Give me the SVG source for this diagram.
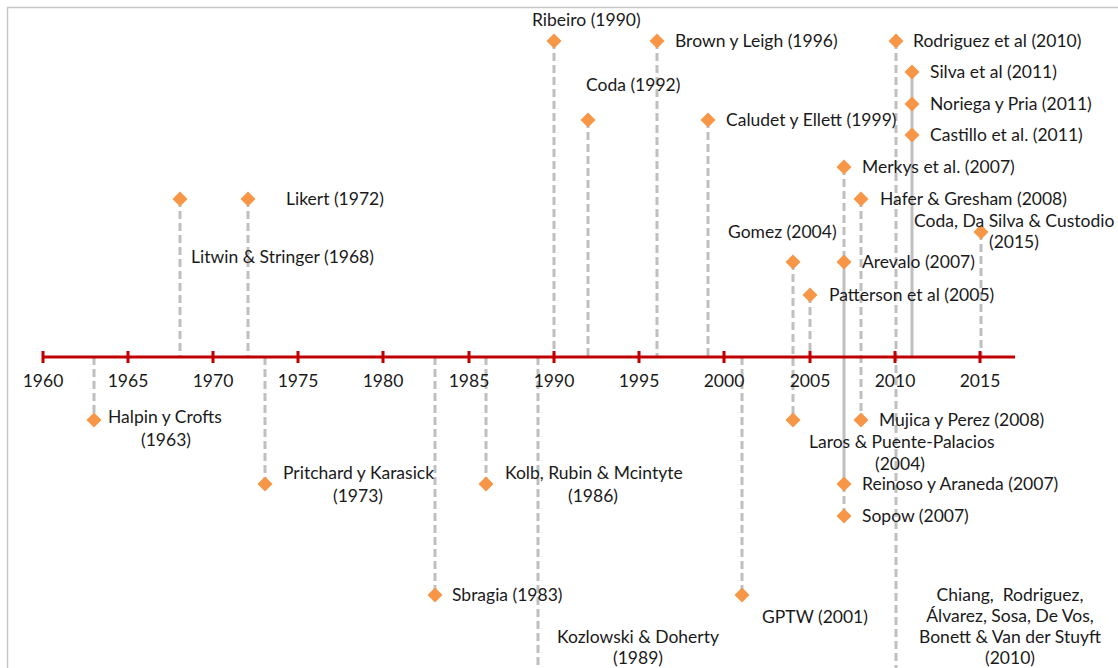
<svg xmlns="http://www.w3.org/2000/svg" width="1118" height="668" viewBox="0 0 1118 668">
<defs>
<style>
.t{font-family:Lato,"Open Sans","Liberation Sans",sans-serif;font-size:17.5px;fill:#1a1a1a;white-space:pre}
.m{text-anchor:middle}
.d{fill:#f79646}
.dl{stroke:#bfbfbf;stroke-width:3;stroke-dasharray:8 4;fill:none}
.sl{stroke:#bfbfbf;stroke-width:3;fill:none}
.ax{stroke:#c00000;stroke-width:3;fill:none}
</style>
<path id="dia" d="M0,-7.5 L7.5,0 L0,7.5 L-7.5,0 Z"/>
</defs>
<rect width="1118" height="668" fill="#fff"/>
<path d="M7.5,668 V7.5 H1118" stroke="#c8c8c8" stroke-width="1.5" fill="none"/>
<g id="connectors">
<line class="dl" x1="94" y1="357" x2="94" y2="420"/>
<line class="dl" x1="180" y1="199" x2="180" y2="357"/>
<line class="dl" x1="248" y1="199" x2="248" y2="357"/>
<line class="dl" x1="265" y1="357" x2="265" y2="484"/>
<line class="dl" x1="435" y1="357" x2="435" y2="595"/>
<line class="dl" x1="486" y1="357" x2="486" y2="484"/>
<line class="dl" x1="538" y1="357" x2="538" y2="668"/>
<line class="dl" x1="554" y1="41" x2="554" y2="357"/>
<line class="dl" x1="588" y1="120" x2="588" y2="357"/>
<line class="dl" x1="657" y1="41" x2="657" y2="357"/>
<line class="dl" x1="708" y1="120" x2="708" y2="357"/>
<line class="dl" x1="742" y1="357" x2="742" y2="595"/>
<line class="dl" x1="793" y1="262" x2="793" y2="420"/>
<line class="dl" x1="810" y1="295" x2="810" y2="357"/>
<line class="dl" x1="844" y1="167" x2="844" y2="262"/>
<line class="sl" x1="844" y1="262" x2="844" y2="484"/>
<line class="dl" x1="844" y1="484" x2="844" y2="516"/>
<line class="dl" x1="861" y1="199" x2="861" y2="420"/>
<line class="dl" x1="896" y1="41" x2="896" y2="668"/>
<line class="sl" x1="912" y1="72" x2="912" y2="357"/>
<line class="dl" x1="981" y1="232" x2="981" y2="357"/>
</g>
<g id="axis">
<line class="ax" x1="43" y1="357" x2="1015" y2="357"/>
<path class="ax" d="M43,351V363M128,351V363M213,351V363M298,351V363M383,351V363M469,351V363M554,351V363M639,351V363M724,351V363M810,351V363M895,351V363M980,351V363"/>
<g class="t m">
<text x="43" y="387">1960</text>
<text x="128" y="387">1965</text>
<text x="213" y="387">1970</text>
<text x="298" y="387">1975</text>
<text x="383" y="387">1980</text>
<text x="469" y="387">1985</text>
<text x="554" y="387">1990</text>
<text x="639" y="387">1995</text>
<text x="724" y="387">2000</text>
<text x="810" y="387">2005</text>
<text x="895" y="387">2010</text>
<text x="980" y="387">2015</text>
</g>
</g>
<g id="halpin"><use href="#dia" class="d" x="94" y="420"/><text class="t" x="108" y="423">Halpin y Crofts</text><text class="t m" x="166" y="446">(1963)</text></g>
<g id="litwin"><use href="#dia" class="d" x="180" y="199"/><text class="t" x="191" y="263">Litwin &amp; Stringer (1968)</text></g>
<g id="likert"><use href="#dia" class="d" x="248" y="199"/><text class="t" x="286" y="205">Likert (1972)</text></g>
<g id="pritchard"><use href="#dia" class="d" x="265" y="484"/><text class="t" x="283" y="479">Pritchard y Karasick</text><text class="t m" x="358" y="502">(1973)</text></g>
<g id="sbragia"><use href="#dia" class="d" x="435" y="595"/><text class="t" x="452" y="601">Sbragia (1983)</text></g>
<g id="kolb"><use href="#dia" class="d" x="486" y="484"/><text class="t" x="505" y="479">Kolb, Rubin &amp; Mcintyte</text><text class="t m" x="593" y="502">(1986)</text></g>
<g id="kozlowski"><text class="t m" x="638" y="643">Kozlowski &amp; Doherty</text><text class="t m" x="638" y="664">(1989)</text></g>
<g id="ribeiro"><use href="#dia" class="d" x="554" y="41"/><text class="t" x="532" y="26">Ribeiro (1990)</text></g>
<g id="coda1992"><use href="#dia" class="d" x="588" y="120"/><text class="t" x="586" y="91">Coda (1992)</text></g>
<g id="brown"><use href="#dia" class="d" x="657" y="41"/><text class="t" x="675" y="47">Brown y Leigh (1996)</text></g>
<g id="caludet"><use href="#dia" class="d" x="708" y="120"/><text class="t" x="726" y="126">Caludet y Ellett (1999)</text></g>
<g id="gptw"><use href="#dia" class="d" x="742" y="595"/><text class="t" x="762" y="623">GPTW (2001)</text></g>
<g id="gomez"><use href="#dia" class="d" x="793" y="262"/><text class="t" x="728" y="238">Gomez (2004)</text></g>
<g id="laros"><use href="#dia" class="d" x="793" y="420"/><text class="t" x="809" y="448">Laros &amp; Puente-Palacios</text><text class="t m" x="900" y="470">(2004)</text></g>
<g id="patterson"><use href="#dia" class="d" x="810" y="295"/><text class="t" x="829" y="301">Patterson et al (2005)</text></g>
<g id="merkys"><use href="#dia" class="d" x="844" y="167"/><text class="t" x="862" y="173">Merkys et al. (2007)</text></g>
<g id="arevalo"><use href="#dia" class="d" x="844" y="262"/><text class="t" x="862" y="268">Arevalo (2007)</text></g>
<g id="reinoso"><use href="#dia" class="d" x="844" y="484"/><text class="t" x="862" y="490">Reinoso y Araneda (2007)</text></g>
<g id="sopow"><use href="#dia" class="d" x="844" y="516"/><text class="t" x="862" y="522">Sopow (2007)</text></g>
<g id="hafer"><use href="#dia" class="d" x="861" y="199"/><text class="t" x="880" y="205">Hafer &amp; Gresham (2008)</text></g>
<g id="mujica"><use href="#dia" class="d" x="861" y="420"/><text class="t" x="879" y="426">Mujica y Perez (2008)</text></g>
<g id="rodriguez"><use href="#dia" class="d" x="896" y="41"/><text class="t" x="913" y="47">Rodriguez et al (2010)</text></g>
<g id="chiang"><text class="t m" x="1010" y="601">Chiang,  Rodriguez,</text><text class="t m" x="1010" y="622">Álvarez, Sosa, De Vos,</text><text class="t m" x="1010" y="643">Bonett &amp; Van der Stuyft</text><text class="t m" x="1010" y="664">(2010)</text></g>
<g id="silva"><use href="#dia" class="d" x="912" y="72"/><text class="t" x="930" y="78">Silva et al (2011)</text></g>
<g id="noriega"><use href="#dia" class="d" x="912" y="104"/><text class="t" x="930" y="110">Noriega y Pria (2011)</text></g>
<g id="castillo"><use href="#dia" class="d" x="912" y="135"/><text class="t" x="930" y="141">Castillo et al. (2011)</text></g>
<g id="coda2015"><use href="#dia" class="d" x="981" y="232"/><text class="t" x="914" y="227">Coda, Da Silva &amp; Custodio</text><text class="t" x="989" y="248">(2015)</text></g>
</svg>
